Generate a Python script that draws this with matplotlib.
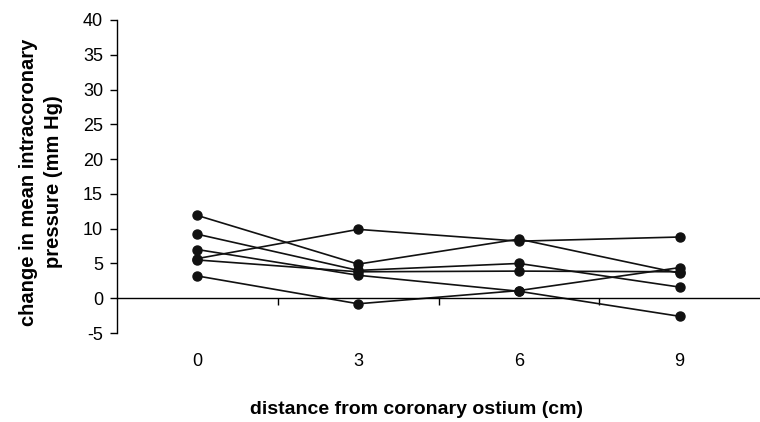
import numpy as np
import matplotlib
matplotlib.use('Agg')
import matplotlib.pyplot as plt
import matplotlib.transforms as mtransforms

plt.rcParams['font.family'] = ['Liberation Sans', 'DejaVu Sans']
plt.rcParams['axes.unicode_minus'] = False

distances = ['0', '3', '6', '9']
series1 = [5.7, 9.9, 8.2, 8.8]
series2 = [11.9, 4.9, 8.5, 3.6]
series3 = [9.2, 4.0, 5.0, 1.6]
series4 = [7.0, 3.3, 1.0, -2.6]
series5 = [5.5, 3.8, 3.9, 3.8]
series6 = [3.2, -0.8, 1.1, 4.4]
allSeries = [series1, series2, series3, series4, series5, series6]

fig = plt.figure(figsize=(7.6, 4.22), dpi=100)
ax = fig.add_axes([117 / 760, 89 / 422, 643 / 760, 313 / 422])

x = np.arange(len(distances))
for s in allSeries:
    ax.plot(x, s, color='#111111', lw=1.2, marker='o', ms=6.5, clip_on=False)

ax.set_xlim(-0.5, len(distances) - 0.5)
ax.set_ylim(-5, 40)
ax.set_yticks(np.arange(-5, 41, 5))
ax.tick_params(axis='y', direction='out', length=5, width=1, labelsize=13, pad=5)

# x axis crosses at zero, tick marks between categories
ax.spines['top'].set_visible(False)
ax.spines['right'].set_visible(False)
ax.spines['bottom'].set_position(('data', 0))
ax.spines['left'].set_linewidth(1)
ax.spines['bottom'].set_linewidth(1)
ax.set_xticks(x)
ax.tick_params(axis='x', which='major', length=0, labelbottom=False)
ax.set_xticks(x[:-1] + 0.5, minor=True)
ax.tick_params(axis='x', which='minor', direction='out', length=5, width=1)

trans = mtransforms.blended_transform_factory(ax.transData, ax.transAxes)
for i, lab in enumerate(distances):
    ax.text(i, -0.09, lab, transform=trans, ha='center', va='center', fontsize=13)

fig.text(41 / 760, 1 - 182 / 422, 'change in mean intracoronary\npressure (mm Hg)',
         rotation=90, ha='center', va='center', fontsize=14.5, fontweight='bold',
         linespacing=1.35)
fig.text(416 / 760, 1 - 410 / 422, 'distance from coronary ostium (cm)',
         ha='center', va='center', fontsize=14, fontweight='bold')

fig.savefig('out.png', dpi=100)
